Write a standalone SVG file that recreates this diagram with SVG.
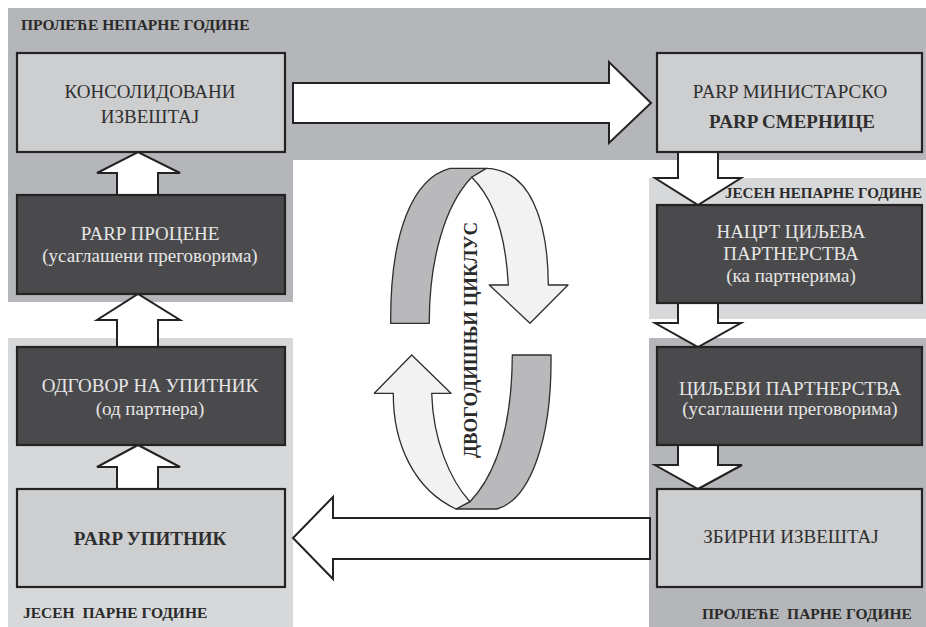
<svg xmlns="http://www.w3.org/2000/svg" width="926" height="627" viewBox="0 0 926 627">
<style>
.bg{fill:#ffffff}
.dk{fill:#b5b6b9}
.lt{fill:#d7d8da}
.boxl{fill:#cdced0;stroke:#232323;stroke-width:2.2}
.boxd{fill:#4a4a4c;stroke:#232323;stroke-width:2.2}
.blk{fill:#ffffff;stroke:#232323;stroke-width:2;stroke-linejoin:miter}
.t{font-family:"Liberation Serif","DejaVu Serif",serif;font-size:19px;text-anchor:middle}
.tl{fill:#2f2f2f}
.td{fill:#e6e6e6}
.lab{font-family:"Liberation Serif","DejaVu Serif",serif;font-size:15.5px;font-weight:bold;fill:#2a2a2a}
.cg{fill:#b9b9bb;stroke:#2e2e2e;stroke-width:1.3;stroke-linejoin:round}
.cl{fill:#f2f2f2;stroke:#2e2e2e;stroke-width:1.3;stroke-linejoin:round}
</style>
<rect class="bg" x="0" y="0" width="926" height="627"/>
<g id="regions">
<path class="dk" d="M8,8 H926 V160 H293 V302 H8 Z"/>
<rect class="lt" x="8" y="338" width="285" height="289"/>
<rect class="lt" x="649" y="178" width="277" height="141"/>
<rect class="dk" x="649" y="338" width="277" height="289"/>
<text class="lab" x="21" y="30">ПРОЛЕЋЕ НЕПАРНЕ ГОДИНЕ</text>
<text class="lab" x="725" y="198" textLength="197" lengthAdjust="spacingAndGlyphs">ЈЕСЕН НЕПАРНЕ ГОДИНЕ</text>
<text class="lab" x="23" y="618" xml:space="preserve">ЈЕСЕН  ПАРНЕ ГОДИНЕ</text>
<text class="lab" x="702" y="619" xml:space="preserve">ПРОЛЕЋЕ  ПАРНЕ ГОДИНЕ</text>
</g>
<g id="connectors">
<path class="blk" d="M293,83 L609,83 L609,62 L651,103 L609,143 L609,123 L293,123 Z"/>
<path class="blk" d="M650,518 L333,518 L333,497 L293,538 L333,579 L333,559 L650,559 Z"/>
<path class="blk" d="M117,196 L117,173 L97,173 L138,152 L180,173 L158,173 L158,196 Z"/>
<path class="blk" d="M117,347 L117,320 L97,320 L138,294 L180,320 L158,320 L158,347 Z"/>
<path class="blk" d="M117,489 L117,467 L97,467 L138,445 L180,467 L158,467 L158,489 Z"/>
<path class="blk" d="M678,152 L718,152 L718,178 L741,178 L698,205 L655,178 L678,178 Z"/>
<path class="blk" d="M678,303 L718,303 L718,323 L741,323 L698,347 L655,323 L678,323 Z"/>
<path class="blk" d="M678,445 L718,445 L718,465 L742,465 L698,489 L655,465 L678,465 Z"/>
</g>
<g id="cycle">
<path class="cg" d="M390.7,323.3 C390,232 413,178 450,168.3 L486.7,168.3 L471.7,177.3 C445,205 429,260 429.3,323.3 Z"/>
<path class="cl" d="M486.7,168.3 C530,170 548,220 548.3,285 L568,285 L530,323.3 L489.3,285 L508.3,285 C506,240 495,200 471.7,177.3 Z"/>
<path class="cg" d="M512.3,355 L551,355 C552,440 530,500 496.7,509 L456,509 L470,501.7 C500,470 512,420 512.3,355 Z"/>
<path class="cl" d="M411.7,355 L451,393.3 L431.7,393.3 C433,440 450,480 470,501.7 L456,509 C415,490 393,445 393.3,393.3 L374.3,393.3 Z"/>
<text transform="translate(477,340) rotate(-90)" style="font-family:'Liberation Serif','DejaVu Serif',serif;font-size:18px;font-weight:bold;fill:#2a2a2a" text-anchor="middle" textLength="236" lengthAdjust="spacingAndGlyphs">ДВОГОДИШЊИ ЦИКЛУС</text>
</g>
<g id="node-konsolidovani">
<rect class="boxl" x="17" y="53" width="268" height="99"/>
<text class="t tl" x="150" y="98">КОНСОЛИДОВАНИ</text>
<text class="t tl" x="150" y="123">ИЗВЕШТАЈ</text>
</g>
<g id="node-procene">
<rect class="boxd" x="17" y="195" width="268" height="99"/>
<text class="t td" x="150" y="240">PARP ПРОЦЕНЕ</text>
<text class="t td" x="150" y="262">(усаглашени преговорима)</text>
</g>
<g id="node-odgovor">
<rect class="boxd" x="17" y="347" width="268" height="98"/>
<text class="t td" x="150" y="392">ОДГОВОР НА УПИТНИК</text>
<text class="t td" x="150" y="415">(од партнера)</text>
</g>
<g id="node-upitnik">
<rect class="boxl" x="17" y="489" width="268" height="98"/>
<text class="t tl" x="150" y="545" font-weight="bold">PARP УПИТНИК</text>
</g>
<g id="node-ministarsko">
<rect class="boxl" x="657" y="53" width="265" height="99"/>
<text class="t tl" x="790" y="98">PARP МИНИСТАРСКО</text>
<text class="t tl" x="792" y="128" font-weight="bold">PARP СМЕРНИЦЕ</text>
</g>
<g id="node-nacrt">
<rect class="boxd" x="657" y="205" width="265" height="98"/>
<text class="t td" x="791" y="238">НАЦРТ ЦИЉЕВА</text>
<text class="t td" x="791" y="260">ПАРТНЕРСТВА</text>
<text class="t td" x="791" y="282">(ка партнерима)</text>
</g>
<g id="node-ciljevi">
<rect class="boxd" x="657" y="347" width="265" height="98"/>
<text class="t td" x="790" y="395">ЦИЉЕВИ ПАРТНЕРСТВА</text>
<text class="t td" x="790" y="415">(усаглашени преговорима)</text>
</g>
<g id="node-zbirni">
<rect class="boxl" x="657" y="489" width="265" height="98"/>
<text class="t tl" x="791" y="543">ЗБИРНИ ИЗВЕШТАЈ</text>
</g>
</svg>
